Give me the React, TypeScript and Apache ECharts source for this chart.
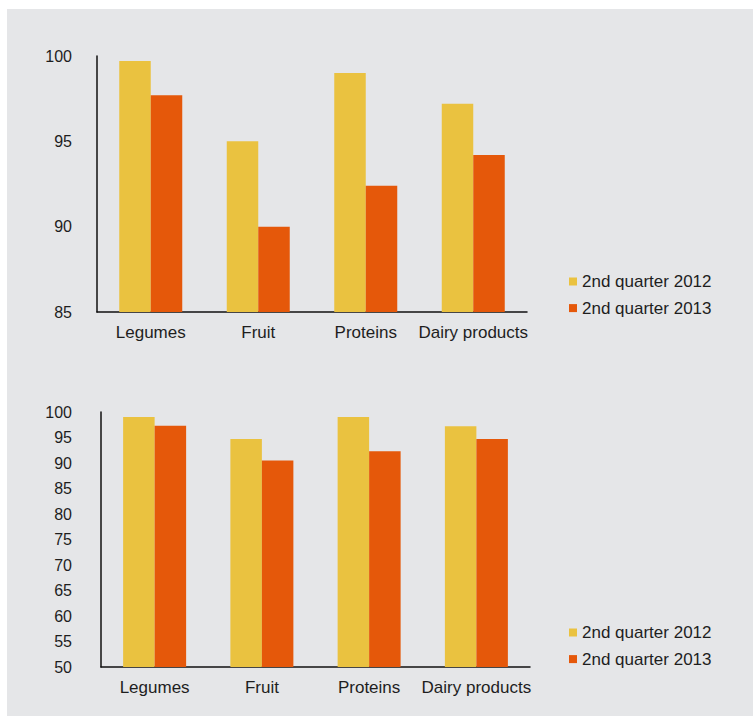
import React, { useEffect, useRef } from "react";
import * as echarts from "echarts";

const categories = ["Legumes", "Fruit", "Proteins", "Dairy products"];
const seriesNames = ["2nd quarter 2012", "2nd quarter 2013"];

// Top chart (axis 85–100)
const top2012 = [99.7, 95.0, 99.0, 97.2];
const top2013 = [97.7, 90.0, 92.4, 94.2];

// Bottom chart (axis 50–100)
const bottom2012 = [99.0, 94.7, 99.0, 97.2];
const bottom2013 = [97.3, 90.5, 92.3, 94.7];

const YELLOW = "#EAC240";
const ORANGE = "#E5580A";
const TEXT = "#1e1e1e";
const FONT = "'Liberation Sans', Arial, sans-serif";

export default function App() {
  const ref = useRef<HTMLDivElement>(null);

  useEffect(() => {
    if (!ref.current) return;
    const chart = echarts.init(ref.current, undefined, { renderer: "svg" });

    const axisLine = { show: true, lineStyle: { color: "#111", width: 1.5 } };

    const xAxisBase = (gridIndex: number, margin: number) => ({
      type: "category" as const,
      gridIndex,
      data: categories,
      axisLine,
      axisTick: { show: false },
      axisLabel: {
        color: TEXT,
        fontSize: 17,
        fontFamily: FONT,
        margin,
        lineHeight: 17,
        interval: 0,
      },
      splitLine: { show: false },
    });

    const yAxisBase = (gridIndex: number, min: number, margin: number) => ({
      type: "value" as const,
      gridIndex,
      min,
      max: 100,
      interval: 5,
      axisLine,
      axisTick: { show: false },
      splitLine: { show: false },
      axisLabel: {
        color: TEXT,
        fontSize: 16,
        fontFamily: FONT,
        margin,
      },
    });

    const bar = (name: string, data: number[], color: string, idx: number) => ({
      name,
      type: "bar" as const,
      xAxisIndex: idx,
      yAxisIndex: idx,
      data,
      barWidth: 31.5,
      barGap: "0%",
      itemStyle: { color },
    });

    const legendBase = (top: number) => ({
      orient: "vertical" as const,
      left: 569,
      top,
      icon: "rect",
      itemWidth: 8,
      itemHeight: 8,
      itemGap: 9.6,
      data: seriesNames,
      textStyle: {
        color: TEXT,
        fontSize: 17,
        fontFamily: FONT,
        lineHeight: 17,
        padding: [0, 0, 0, 0],
      },
      padding: 0,
      selectedMode: false,
    });

    chart.setOption({
      animation: false,
      backgroundColor: "transparent",
      grid: [
        { left: 97, right: 226, top: 56, bottom: 405 },
        { left: 101, right: 223, top: 412, bottom: 50 },
      ],
      xAxis: [xAxisBase(0, 11.5), xAxisBase(1, 12)],
      yAxis: [yAxisBase(0, 85, 25), yAxisBase(1, 50, 29)],
      legend: [legendBase(273), legendBase(624)],
      series: [
        bar(seriesNames[0], top2012, YELLOW, 0),
        bar(seriesNames[1], top2013, ORANGE, 0),
        bar(seriesNames[0], bottom2012, YELLOW, 1),
        bar(seriesNames[1], bottom2013, ORANGE, 1),
      ],
    });

    return () => chart.dispose();
  }, []);

  return (
    <div
      style={{
        position: "fixed",
        left: 0,
        top: 0,
        width: 753,
        height: 717,
        background: "#ffffff",
      }}
    >
      <div
        style={{
          position: "absolute",
          left: 7,
          top: 9,
          width: 746,
          height: 707,
          background: "#E5E6E8",
        }}
      />
      <div
        ref={ref}
        style={{ position: "absolute", left: 0, top: 0, width: 753, height: 717 }}
      />
    </div>
  );
}
